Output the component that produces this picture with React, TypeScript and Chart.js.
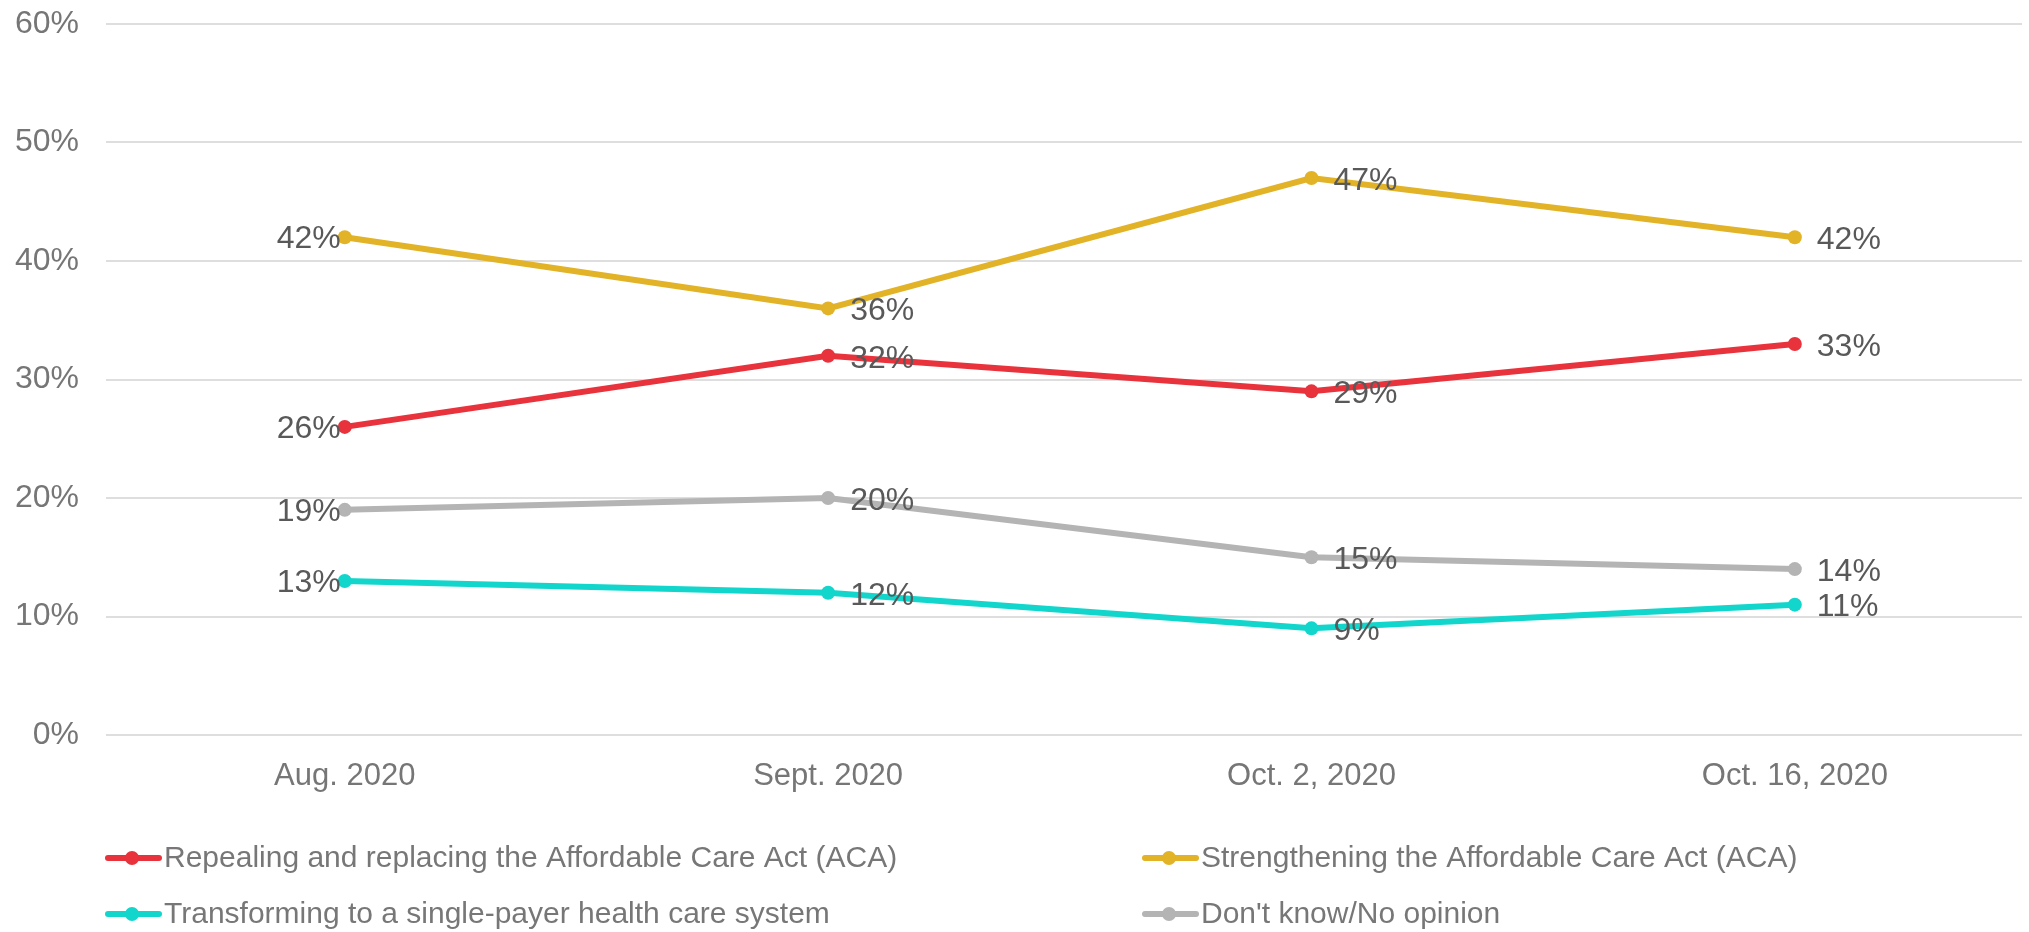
import React, { useEffect, useRef } from "react";
import { Chart, registerables } from "chart.js";

Chart.register(...registerables);

const categories = ["Aug. 2020", "Sept. 2020", "Oct. 2, 2020", "Oct. 16, 2020"];
const repealing = [26, 32, 29, 33];
const strengthening = [42, 36, 47, 42];
const singlePayer = [13, 12, 9, 11];
const dontKnow = [19, 20, 15, 14];
const yTicks = [0, 10, 20, 30, 40, 50, 60];

const seriesNames = [
  "Repealing and replacing the Affordable Care Act (ACA)",
  "Strengthening the Affordable Care Act (ACA)",
  "Transforming to a single-payer health care system",
  "Don't know/No opinion",
];
const seriesColors = ["#e8323c", "#e2b227", "#12d6cc", "#b4b4b4"];
const seriesValues = [repealing, strengthening, singlePayer, dontKnow];

const FONT = "'Liberation Sans', Arial, sans-serif";

const labelPlugin = {
  id: "pointLabels",
  afterDatasetsDraw(chart: any) {
    const ctx = chart.ctx;
    ctx.save();
    ctx.font = `32px ${FONT}`;
    ctx.fillStyle = "#595959";
    ctx.textBaseline = "middle";
    chart.data.datasets.forEach((ds: any, di: number) => {
      const meta = chart.getDatasetMeta(di);
      meta.data.forEach((pt: any, i: number) => {
        const txt = `${ds.data[i].y}%`;
        if (i === 0) {
          ctx.textAlign = "right";
          ctx.fillText(txt, pt.x - 4, pt.y + 2);
        } else {
          ctx.textAlign = "left";
          ctx.fillText(txt, pt.x + 22, pt.y + 3);
        }
      });
    });
    ctx.restore();
  },
};

const legendPlugin = {
  id: "customLegend",
  afterDraw(chart: any) {
    const ctx = chart.ctx;
    const cols = [105, 1142];
    const rows = [858, 914];
    ctx.save();
    ctx.font = `30px ${FONT}`;
    ctx.textBaseline = "middle";
    ctx.textAlign = "left";
    chart.data.datasets.forEach((ds: any, i: number) => {
      const x = cols[i % 2];
      const y = rows[Math.floor(i / 2)];
      ctx.strokeStyle = ds.borderColor;
      ctx.lineWidth = 6;
      ctx.lineCap = "round";
      ctx.beginPath();
      ctx.moveTo(x + 3, y);
      ctx.lineTo(x + 54, y);
      ctx.stroke();
      ctx.fillStyle = ds.borderColor;
      ctx.beginPath();
      ctx.arc(x + 27, y, 7, 0, Math.PI * 2);
      ctx.fill();
      ctx.fillStyle = "#777777";
      ctx.fillText(ds.label, x + 59, y + 1);
    });
    ctx.restore();
  },
};

export default function App() {
  const ref = useRef<HTMLCanvasElement | null>(null);
  useEffect(() => {
    if (!ref.current) return;
    const chart = new Chart(ref.current, {
      type: "line",
      data: {
        datasets: seriesValues.map((vals, si) => ({
          label: seriesNames[si],
          data: vals.map((v, i) => ({ x: i, y: v })),
          borderColor: seriesColors[si],
          backgroundColor: seriesColors[si],
          pointBackgroundColor: seriesColors[si],
          pointBorderWidth: 0,
          pointRadius: 7,
          borderWidth: 6,
          tension: 0,
        })),
      },
      options: {
        animation: false,
        responsive: true,
        maintainAspectRatio: false,
        layout: { padding: { top: 24, right: 0, left: 0, bottom: 0 } },
        plugins: { legend: { display: false }, tooltip: { enabled: false } },
        scales: {
          x: {
            type: "linear",
            min: -0.494,
            max: 3.47,
            grid: { display: false },
            border: { display: false },
            afterBuildTicks: (s: any) => {
              s.ticks = categories.map((_, i) => ({ value: i }));
            },
            afterFit: (s: any) => {
              s.height = 197;
              s.paddingLeft = 0;
              s.paddingRight = 0;
            },
            ticks: {
              padding: 15,
              color: "#767676",
              font: { family: FONT, size: 31 },
              maxRotation: 0,
              autoSkip: false,
              callback: (v: any) => categories[Math.round(v)] ?? "",
            },
          },
          y: {
            min: 0,
            max: 60,
            afterBuildTicks: (s: any) => {
              s.ticks = yTicks.map((v) => ({ value: v }));
            },
            afterFit: (s: any) => {
              s.width = 106;
              s.paddingTop = 0;
              s.paddingBottom = 0;
            },
            grid: { color: "#dedede", lineWidth: 2, drawTicks: false },
            border: { display: false },
            ticks: {
              padding: 27,
              color: "#767676",
              font: { family: FONT, size: 32 },
              callback: (v: any) => `${v}%`,
            },
          },
        },
      },
      plugins: [labelPlugin, legendPlugin],
    });
    return () => chart.destroy();
  }, []);
  return (
    <div style={{ position: "absolute", left: 0, top: 0, width: 2029, height: 932, background: "#fff" }}>
      <canvas ref={ref} />
    </div>
  );
}
